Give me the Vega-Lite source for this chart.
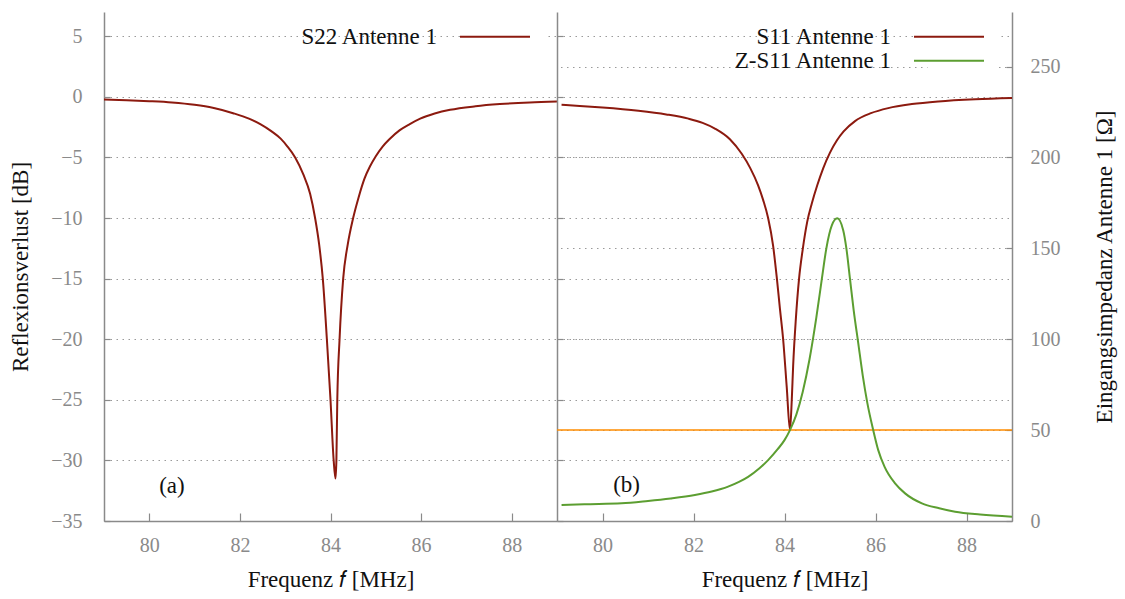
{
  "$schema": "https://vega.github.io/schema/vega-lite/v6.json",
  "background": "white",
  "padding": {"left": 9, "top": 12, "right": 6, "bottom": 4},
  "spacing": 0,
  "bounds": "flush",
  "config": {
    "view": {"stroke": null},
    "axis": {
      "labelFont": "Liberation Serif", "labelFontSize": 20, "labelColor": "#8a8a8a",
      "titleFont": "Liberation Serif", "titleFontSize": 23, "titleFontWeight": "normal", "titleColor": "#111111",
      "domainColor": "#8a8a8a", "domainWidth": 1.5, "tickColor": "#8a8a8a", "tickWidth": 1.2,
      "gridColor": "#9a9a9a", "gridDash": [1.5, 4.5], "gridWidth": 1
    },
    "legend": {
      "orient": "none", "labelFont": "Liberation Serif", "labelFontSize": 23, "labelColor": "#111111",
      "labelAlign": "right", "labelOffset": -69.5, "labelLimit": 0,
      "symbolType": "M-7,0H7", "symbolSize": 100, "symbolStrokeWidth": 2,
      "rowPadding": 0, "padding": 10, "title": null
    },
    "text": {"font": "Liberation Serif", "fontSize": 23, "color": "#111111"}
  },
  "resolve": {"scale": {"color": "independent", "y": "independent", "x": "independent"}, "legend": {"color": "independent"}},
  "datasets": {
    "s22": [
      {"f": 79.0, "db": -0.22, "series": "S22 Antenne 1"},
      {"f": 79.5, "db": -0.28, "series": "S22 Antenne 1"},
      {"f": 80.0, "db": -0.36, "series": "S22 Antenne 1"},
      {"f": 80.5, "db": -0.47, "series": "S22 Antenne 1"},
      {"f": 81.0, "db": -0.66, "series": "S22 Antenne 1"},
      {"f": 81.4, "db": -0.9, "series": "S22 Antenne 1"},
      {"f": 81.85, "db": -1.35, "series": "S22 Antenne 1"},
      {"f": 82.2, "db": -1.8, "series": "S22 Antenne 1"},
      {"f": 82.45, "db": -2.25, "series": "S22 Antenne 1"},
      {"f": 82.7, "db": -2.85, "series": "S22 Antenne 1"},
      {"f": 82.9, "db": -3.45, "series": "S22 Antenne 1"},
      {"f": 83.05, "db": -4.1, "series": "S22 Antenne 1"},
      {"f": 83.22, "db": -5.0, "series": "S22 Antenne 1"},
      {"f": 83.4, "db": -6.4, "series": "S22 Antenne 1"},
      {"f": 83.55, "db": -8.0, "series": "S22 Antenne 1"},
      {"f": 83.66, "db": -10.0, "series": "S22 Antenne 1"},
      {"f": 83.75, "db": -12.2, "series": "S22 Antenne 1"},
      {"f": 83.83, "db": -15.0, "series": "S22 Antenne 1"},
      {"f": 83.92, "db": -20.0, "series": "S22 Antenne 1"},
      {"f": 84.0, "db": -25.0, "series": "S22 Antenne 1"},
      {"f": 84.07, "db": -30.0, "series": "S22 Antenne 1"},
      {"f": 84.11, "db": -31.5, "series": "S22 Antenne 1"},
      {"f": 84.13, "db": -30.0, "series": "S22 Antenne 1"},
      {"f": 84.15, "db": -25.0, "series": "S22 Antenne 1"},
      {"f": 84.2, "db": -20.0, "series": "S22 Antenne 1"},
      {"f": 84.28, "db": -15.0, "series": "S22 Antenne 1"},
      {"f": 84.38, "db": -12.2, "series": "S22 Antenne 1"},
      {"f": 84.5, "db": -10.0, "series": "S22 Antenne 1"},
      {"f": 84.62, "db": -8.3, "series": "S22 Antenne 1"},
      {"f": 84.75, "db": -6.75, "series": "S22 Antenne 1"},
      {"f": 84.87, "db": -5.75, "series": "S22 Antenne 1"},
      {"f": 85.0, "db": -4.9, "series": "S22 Antenne 1"},
      {"f": 85.15, "db": -4.1, "series": "S22 Antenne 1"},
      {"f": 85.3, "db": -3.5, "series": "S22 Antenne 1"},
      {"f": 85.53, "db": -2.75, "series": "S22 Antenne 1"},
      {"f": 85.75, "db": -2.25, "series": "S22 Antenne 1"},
      {"f": 85.98, "db": -1.8, "series": "S22 Antenne 1"},
      {"f": 86.3, "db": -1.38, "series": "S22 Antenne 1"},
      {"f": 86.64, "db": -1.07, "series": "S22 Antenne 1"},
      {"f": 87.2, "db": -0.78, "series": "S22 Antenne 1"},
      {"f": 87.74, "db": -0.6, "series": "S22 Antenne 1"},
      {"f": 88.4, "db": -0.46, "series": "S22 Antenne 1"},
      {"f": 89.0, "db": -0.38, "series": "S22 Antenne 1"}
    ],
    "s11": [
      {"f": 79.1, "db": -0.66, "series": "S11 Antenne 1"},
      {"f": 79.5, "db": -0.75, "series": "S11 Antenne 1"},
      {"f": 80.0, "db": -0.88, "series": "S11 Antenne 1"},
      {"f": 80.79, "db": -1.15, "series": "S11 Antenne 1"},
      {"f": 81.4, "db": -1.45, "series": "S11 Antenne 1"},
      {"f": 81.89, "db": -1.8, "series": "S11 Antenne 1"},
      {"f": 82.2, "db": -2.15, "series": "S11 Antenne 1"},
      {"f": 82.47, "db": -2.62, "series": "S11 Antenne 1"},
      {"f": 82.8, "db": -3.5, "series": "S11 Antenne 1"},
      {"f": 83.06, "db": -4.7, "series": "S11 Antenne 1"},
      {"f": 83.25, "db": -5.9, "series": "S11 Antenne 1"},
      {"f": 83.42, "db": -7.3, "series": "S11 Antenne 1"},
      {"f": 83.53, "db": -8.5, "series": "S11 Antenne 1"},
      {"f": 83.64, "db": -10.0, "series": "S11 Antenne 1"},
      {"f": 83.75, "db": -12.3, "series": "S11 Antenne 1"},
      {"f": 83.83, "db": -14.9, "series": "S11 Antenne 1"},
      {"f": 83.9, "db": -17.5, "series": "S11 Antenne 1"},
      {"f": 83.97, "db": -20.0, "series": "S11 Antenne 1"},
      {"f": 84.05, "db": -24.0, "series": "S11 Antenne 1"},
      {"f": 84.12, "db": -27.5, "series": "S11 Antenne 1"},
      {"f": 84.16, "db": -25.0, "series": "S11 Antenne 1"},
      {"f": 84.19, "db": -22.2, "series": "S11 Antenne 1"},
      {"f": 84.25, "db": -18.3, "series": "S11 Antenne 1"},
      {"f": 84.32, "db": -15.0, "series": "S11 Antenne 1"},
      {"f": 84.4, "db": -12.6, "series": "S11 Antenne 1"},
      {"f": 84.5, "db": -10.3, "series": "S11 Antenne 1"},
      {"f": 84.6, "db": -8.8, "series": "S11 Antenne 1"},
      {"f": 84.72, "db": -7.3, "series": "S11 Antenne 1"},
      {"f": 84.85, "db": -5.9, "series": "S11 Antenne 1"},
      {"f": 85.0, "db": -4.6, "series": "S11 Antenne 1"},
      {"f": 85.15, "db": -3.6, "series": "S11 Antenne 1"},
      {"f": 85.3, "db": -2.85, "series": "S11 Antenne 1"},
      {"f": 85.55, "db": -2.0, "series": "S11 Antenne 1"},
      {"f": 85.9, "db": -1.35, "series": "S11 Antenne 1"},
      {"f": 86.28, "db": -0.93, "series": "S11 Antenne 1"},
      {"f": 86.8, "db": -0.6, "series": "S11 Antenne 1"},
      {"f": 87.38, "db": -0.38, "series": "S11 Antenne 1"},
      {"f": 88.2, "db": -0.2, "series": "S11 Antenne 1"},
      {"f": 89.0, "db": -0.1, "series": "S11 Antenne 1"}
    ],
    "z": [
      {"f": 79.1, "ohm": 8.8, "series": "Z-S11 Antenne 1"},
      {"f": 79.6, "ohm": 9.2, "series": "Z-S11 Antenne 1"},
      {"f": 80.42, "ohm": 9.7, "series": "Z-S11 Antenne 1"},
      {"f": 81.0, "ohm": 11.0, "series": "Z-S11 Antenne 1"},
      {"f": 81.5, "ohm": 12.4, "series": "Z-S11 Antenne 1"},
      {"f": 82.03, "ohm": 14.3, "series": "Z-S11 Antenne 1"},
      {"f": 82.4, "ohm": 16.2, "series": "Z-S11 Antenne 1"},
      {"f": 82.76, "ohm": 18.9, "series": "Z-S11 Antenne 1"},
      {"f": 83.0, "ohm": 21.5, "series": "Z-S11 Antenne 1"},
      {"f": 83.2, "ohm": 24.3, "series": "Z-S11 Antenne 1"},
      {"f": 83.45, "ohm": 29.0, "series": "Z-S11 Antenne 1"},
      {"f": 83.64, "ohm": 33.5, "series": "Z-S11 Antenne 1"},
      {"f": 83.85, "ohm": 39.5, "series": "Z-S11 Antenne 1"},
      {"f": 84.0, "ohm": 44.5, "series": "Z-S11 Antenne 1"},
      {"f": 84.12, "ohm": 50.0, "series": "Z-S11 Antenne 1"},
      {"f": 84.26, "ohm": 58.5, "series": "Z-S11 Antenne 1"},
      {"f": 84.4, "ohm": 71.0, "series": "Z-S11 Antenne 1"},
      {"f": 84.55, "ohm": 89.0, "series": "Z-S11 Antenne 1"},
      {"f": 84.7, "ohm": 112.0, "series": "Z-S11 Antenne 1"},
      {"f": 84.82, "ohm": 133.0, "series": "Z-S11 Antenne 1"},
      {"f": 84.92, "ohm": 150.0, "series": "Z-S11 Antenne 1"},
      {"f": 85.04, "ohm": 162.6, "series": "Z-S11 Antenne 1"},
      {"f": 85.16, "ohm": 166.5, "series": "Z-S11 Antenne 1"},
      {"f": 85.29, "ohm": 160.0, "series": "Z-S11 Antenne 1"},
      {"f": 85.36, "ohm": 150.0, "series": "Z-S11 Antenne 1"},
      {"f": 85.44, "ohm": 133.0, "series": "Z-S11 Antenne 1"},
      {"f": 85.52, "ohm": 116.0, "series": "Z-S11 Antenne 1"},
      {"f": 85.62, "ohm": 98.0, "series": "Z-S11 Antenne 1"},
      {"f": 85.72, "ohm": 80.0, "series": "Z-S11 Antenne 1"},
      {"f": 85.82, "ohm": 65.0, "series": "Z-S11 Antenne 1"},
      {"f": 85.95, "ohm": 50.0, "series": "Z-S11 Antenne 1"},
      {"f": 86.06, "ohm": 39.0, "series": "Z-S11 Antenne 1"},
      {"f": 86.2, "ohm": 29.8, "series": "Z-S11 Antenne 1"},
      {"f": 86.43, "ohm": 20.7, "series": "Z-S11 Antenne 1"},
      {"f": 86.65, "ohm": 15.2, "series": "Z-S11 Antenne 1"},
      {"f": 87.02, "ohm": 9.7, "series": "Z-S11 Antenne 1"},
      {"f": 87.4, "ohm": 7.0, "series": "Z-S11 Antenne 1"},
      {"f": 87.75, "ohm": 5.1, "series": "Z-S11 Antenne 1"},
      {"f": 88.3, "ohm": 3.6, "series": "Z-S11 Antenne 1"},
      {"f": 89.0, "ohm": 2.4, "series": "Z-S11 Antenne 1"}
    ],
    "ref50": [{"ohm": 50}],
    "labA": [{"f": 80.5, "db": -32.1, "label": "(a)"}],
    "labB": [{"f": 80.53, "db": -32.0, "label": "(b)"}]
  },
  "hconcat": [
    {
      "width": 453,
      "height": 509,
      "layer": [
        {
          "data": {"name": "s22"},
          "mark": {"type": "line", "strokeWidth": 2, "interpolate": "monotone", "clip": true},
          "encoding": {
            "x": {"field": "f", "type": "quantitative",
                  "scale": {"domain": [79, 89], "nice": false, "zero": false},
                  "axis": {"values": [80, 82, 84, 86, 88], "title": "Frequenz 𝑓 [MHz]", "grid": false,
                           "tickSize": -8, "labelPadding": 22, "titlePadding": 13}},
            "y": {"field": "db", "type": "quantitative",
                  "scale": {"domain": [-35, 7], "nice": false, "zero": false},
                  "axis": {"values": [-35, -30, -25, -20, -15, -10, -5, 0, 5], "title": "Reflexionsverlust [dB]",
                           "grid": true, "tickSize": -6, "labelPadding": 28, "titlePadding": 18}},
            "color": {"field": "series", "type": "nominal",
                      "scale": {"domain": ["S22 Antenne 1"], "range": ["#8c1a0f"]},
                      "legend": {"legendX": 369.5, "legendY": 3.2, "fillColor": "white"}}
          }
        },
        {
          "data": {"name": "labA"},
          "mark": {"type": "text", "align": "center", "baseline": "middle"},
          "encoding": {
            "x": {"field": "f", "type": "quantitative"},
            "y": {"field": "db", "type": "quantitative"},
            "text": {"field": "label"}
          }
        }
      ]
    },
    {
      "width": 455,
      "height": 509,
      "resolve": {"scale": {"y": "independent"}},
      "layer": [
        {
          "layer": [
            {
              "data": {"name": "s11"},
              "mark": {"type": "line", "strokeWidth": 2, "interpolate": "monotone", "clip": true},
              "encoding": {
                "x": {"field": "f", "type": "quantitative",
                      "scale": {"domain": [79, 89], "nice": false, "zero": false},
                      "axis": {"values": [80, 82, 84, 86, 88], "title": "Frequenz 𝑓 [MHz]", "grid": false,
                               "tickSize": -8, "labelPadding": 22, "titlePadding": 13}},
                "y": {"field": "db", "type": "quantitative",
                      "scale": {"domain": [-35, 7], "nice": false, "zero": false},
                      "axis": {"orient": "left", "values": [-35, -30, -25, -20, -15, -10, -5, 0, 5], "title": null,
                               "labels": false, "grid": true, "tickSize": -6}},
                "color": {"field": "series", "type": "nominal",
                          "scale": {"domain": ["S11 Antenne 1", "Z-S11 Antenne 1"], "range": ["#8c1a0f", "#5c9e31"]},
                          "legend": {"legendX": 370.5, "legendY": 3.2, "fillColor": "white"}}
              }
            },
            {
              "data": {"name": "labB"},
              "mark": {"type": "text", "align": "center", "baseline": "middle"},
              "encoding": {
                "x": {"field": "f", "type": "quantitative"},
                "y": {"field": "db", "type": "quantitative"},
                "text": {"field": "label"}
              }
            }
          ]
        },
        {
          "layer": [
            {
              "data": {"name": "ref50"},
              "mark": {"type": "rule", "color": "#ff8c00", "strokeWidth": 1.5},
              "encoding": {
                "y": {"field": "ohm", "type": "quantitative"}
              }
            },
            {
              "data": {"name": "z"},
              "mark": {"type": "line", "strokeWidth": 2, "interpolate": "monotone", "clip": true},
              "encoding": {
                "x": {"field": "f", "type": "quantitative"},
                "y": {"field": "ohm", "type": "quantitative",
                      "scale": {"domain": [0, 280], "nice": false, "zero": false},
                      "axis": {"orient": "right", "values": [0, 50, 100, 150, 200, 250],
                               "title": "Eingangsimpedanz Antenne 1 [Ω]", "grid": true, "tickSize": -6,
                               "labelPadding": 24, "titlePadding": 33, "titleAngle": 270, "titleBaseline": "top"}},
                "color": {"field": "series", "type": "nominal"}
              }
            }
          ]
        }
      ]
    }
  ]
}
